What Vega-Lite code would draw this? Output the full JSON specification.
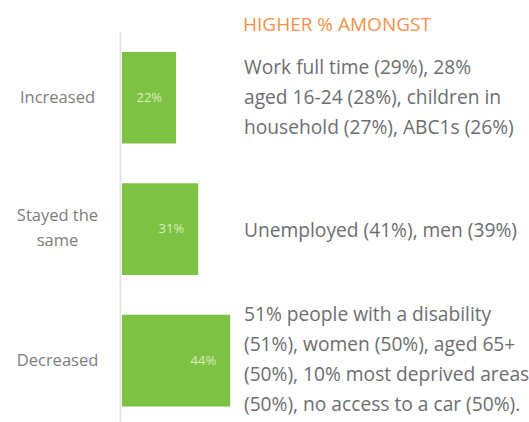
{
  "$schema": "https://vega.github.io/schema/vega-lite/v6.json",
  "width": 407,
  "height": 390,
  "autosize": {"type": "none"},
  "padding": {"left": 122, "top": 32, "right": 0, "bottom": 0},
  "background": "white",
  "config": {"view": {"stroke": null}, "font": "Open Sans"},
  "title": {
    "text": "HIGHER % AMONGST",
    "anchor": "start",
    "frame": "group",
    "orient": "top",
    "dx": 121,
    "dy": 3,
    "offset": -15,
    "baseline": "alphabetic",
    "font": "Open Sans",
    "fontSize": 19,
    "fontWeight": "normal",
    "color": "#f5914a"
  },
  "data": {
    "values": [
      {"change": "Increased", "pct": 22, "label": "22%", "note": ["Work full time (29%), 28%", "aged 16-24 (28%), children in", "household (27%), ABC1s (26%)"]},
      {"change": "Stayed the same", "pct": 31, "label": "31%", "note": ["Unemployed (41%), men (39%)"]},
      {"change": "Decreased", "pct": 44, "label": "44%", "note": ["51% people with a disability", "(51%), women (50%), aged 65+", "(50%), 10% most deprived areas", "(50%), no access to a car (50%)."]}
    ]
  },
  "encoding": {
    "y": {
      "field": "change",
      "type": "nominal",
      "sort": null,
      "scale": {"paddingInner": 0.304, "paddingOuter": 0.135, "align": 0.56},
      "axis": {
        "title": null,
        "ticks": false,
        "tickSize": 0,
        "offset": 2,
        "domainColor": "#e4e4e4",
        "domainWidth": 2,
        "labelPadding": 63,
        "labelAlign": "center",
        "labelBaseline": "middle",
        "labelFont": "Open Sans",
        "labelFontSize": 16.5,
        "labelColor": "#7d7d7d",
        "labelLineHeight": 25,
        "labelOffset": {"condition": {"test": "datum.value == 'Stayed the same'", "value": -13}, "value": 0},
        "labelExpr": "datum.value == 'Stayed the same' ? ['Stayed the', 'same'] : datum.value"
      }
    }
  },
  "layer": [
    {
      "mark": {"type": "bar", "color": "#7dc242"},
      "encoding": {
        "x": {"field": "pct", "type": "quantitative", "scale": {"domain": [0, 165.5], "nice": false}, "axis": null}
      }
    },
    {
      "mark": {"type": "text", "align": "right", "baseline": "middle", "dx": -14, "fontSize": 13, "color": "#dcedbf"},
      "encoding": {
        "x": {"field": "pct", "type": "quantitative"},
        "text": {"field": "label"}
      }
    },
    {
      "transform": [{"calculate": "-15.85 * (length(datum.note) - 1)", "as": "shift"}],
      "mark": {"type": "text", "align": "left", "baseline": "middle", "dy": 48, "fontSize": 19.2, "lineHeight": 30, "color": "#6d6e71", "font": "Open Sans"},
      "encoding": {
        "x": {"datum": 49.6, "type": "quantitative"},
        "yOffset": {"field": "shift", "type": "quantitative", "scale": null},
        "text": {"field": "note"}
      }
    }
  ]
}
